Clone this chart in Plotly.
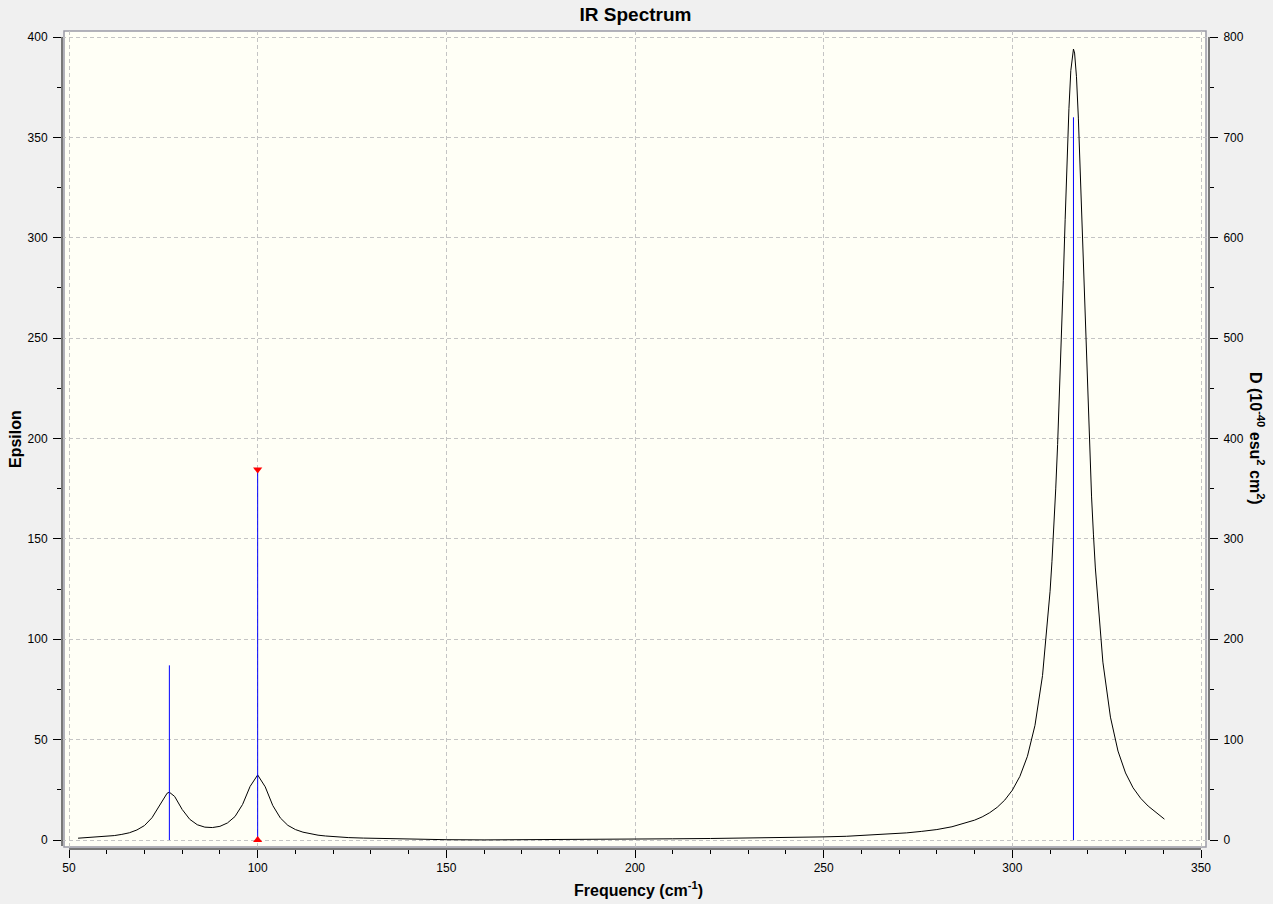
import plotly.graph_objects as go

# ---- data ----
freq = [52.4, 54, 56, 58, 60, 62, 64, 66, 68, 70, 72, 74, 76, 76.6, 78, 80, 82, 84, 86, 88,
        90, 92, 94, 96, 98, 100, 102, 104, 106, 108, 110, 112, 114, 116, 118, 120, 124, 128,
        132, 136, 140, 145, 150, 160, 170, 180, 190, 200, 210, 220, 230, 240, 250, 256, 260,
        264, 268, 272, 276, 280, 284, 288, 290, 292, 294, 296, 298, 300, 302, 304, 306, 308,
        310, 310.5, 311, 311.5, 312, 312.5, 313, 313.5, 314, 314.5, 315, 315.5, 316, 316.2,
        316.5, 317, 317.5, 318, 318.5, 319, 319.5, 320, 320.5, 321, 321.5, 322, 324, 326,
        328, 330, 332, 334, 336, 338, 340.3]
epsilon = [0.9, 1.1, 1.3, 1.5, 1.8, 2.2, 2.8, 3.6, 5.0, 7.2, 11.1, 17.3, 23.3, 23.8, 21.7,
           15.2, 10.3, 7.6, 6.4, 6.2, 6.8, 8.5, 11.7, 17.7, 26.7, 32.4, 26.5, 17.2, 11.0, 7.3,
           5.2, 3.9, 3.0, 2.4, 2.0, 1.65, 1.2, 0.95, 0.75, 0.6, 0.45, 0.3, 0.15, 0.05, 0.1,
           0.2, 0.3, 0.45, 0.6, 0.75, 0.9, 1.15, 1.55, 1.85, 2.2, 2.55, 3.0, 3.55, 4.3, 5.2,
           6.6, 8.6, 9.9, 11.5, 13.6, 16.3, 19.9, 24.8, 31.7, 41.7, 57.1, 81.9, 123.9, 138.6,
           155.5, 174.9, 197.0, 221.8, 249.3, 278.8, 309.2, 338.5, 364.3, 383.3, 393.1, 394.0,
           392.0, 380.2, 359.6, 332.8, 303.1, 272.8, 243.6, 216.6, 192.4, 170.9, 152.0, 135.5,
           88.6, 61.2, 44.3, 33.4, 26.0, 20.8, 16.9, 13.8, 10.4]

stick_freq = [76.6, 100.0, 316.2]
stick_D = [174, 369, 720]
selected_index = 1

x_ticks = [50, 100, 150, 200, 250, 300, 350]
eps_ticks = [0, 50, 100, 150, 200, 250, 300, 350, 400]
d_ticks = [0, 100, 200, 300, 400, 500, 600, 700, 800]

# ---- layout geometry ----
W, H = 1273, 904
L, R, T, B = 62, 1209, 31, 849          # plot area (axis lines) in px
xr = [48.145, 352.12]
yr = [-4.483, 402.99]
y2r = [yr[0] * 2, yr[1] * 2]

FONT = "Liberation Sans, Arial, sans-serif"

def px_x(p):
    return (p - L) / (R - L)

def px_y(p):
    return (B - p) / (B - T)

sx, sy = [], []
for f, d in zip(stick_freq, stick_D):
    sx += [f, f, None]
    sy += [0, d, None]

fig = go.Figure()
fig.add_trace(go.Scatter(x=sx, y=sy, mode="lines", yaxis="y2",
                         line=dict(color="#0000FF", width=1), hoverinfo="skip",
                         showlegend=False))
fig.add_trace(go.Scatter(x=freq, y=epsilon, mode="lines",
                         line=dict(color="#000000", width=1), showlegend=False))
fig.add_trace(go.Scatter(x=[stick_freq[selected_index]], y=[stick_D[selected_index]],
                         yaxis="y2", mode="markers",
                         marker=dict(symbol="triangle-down", size=8, color="#FF0000"),
                         showlegend=False))
fig.add_trace(go.Scatter(x=[stick_freq[selected_index]], y=[0],
                         yaxis="y2", mode="markers",
                         marker=dict(symbol="triangle-up", size=8, color="#FF0000"),
                         showlegend=False))

grid = dict(showgrid=True, gridcolor="#C4C4C4", gridwidth=1, griddash="4px,3px")
tickfont = dict(family=FONT, size=12, color="#000000")

fig.update_layout(
    width=W, height=H,
    margin=dict(l=L, r=W - R, t=T, b=H - B, pad=0),
    paper_bgcolor="#F0F0F0",
    plot_bgcolor="#F0F0F0",
    title=dict(text="<b>IR Spectrum</b>", x=0.5, xref="paper", xanchor="center",
               y=1 - 14 / H, yref="container", yanchor="middle",
               font=dict(family=FONT, size=19, color="#000000")),
    xaxis=dict(range=xr, tickvals=x_ticks, ticks="outside", ticklen=8, tickwidth=1,
               tickcolor="#000000", showline=False, zeroline=False, tickfont=tickfont,
               minor=dict(dtick=10, tick0=0, ticks="outside", ticklen=4, tickcolor="#000000",
                          showgrid=False),
               **grid),
    yaxis=dict(range=yr, tickvals=eps_ticks, ticks="outside", ticklen=8, tickwidth=1,
               tickcolor="#000000", showline=False, zeroline=False, tickfont=tickfont,
               ticklabelstandoff=3,
               minor=dict(dtick=25, tick0=0, ticks="outside", ticklen=4, tickcolor="#000000",
                          showgrid=False),
               **grid),
    yaxis2=dict(range=y2r, overlaying="y", side="right", tickvals=d_ticks, ticks="outside",
                ticklen=8, tickwidth=1, tickcolor="#000000", showline=False, zeroline=False,
                showgrid=False, tickfont=tickfont, ticklabelstandoff=3,
                minor=dict(dtick=50, tick0=0, ticks="outside", ticklen=4,
                           tickcolor="#000000", showgrid=False)),
    shapes=[
        # ivory plotting frame
        dict(type="rect", xref="paper", yref="paper", layer="below",
             x0=px_x(64), x1=px_x(1206), y0=px_y(847), y1=px_y(31),
             fillcolor="#FFFFF6", line=dict(color="#9A9AA6", width=1.5)),
        # axis lines spanning the tick ranges
        dict(type="line", xref="x", yref="paper", x0=x_ticks[0], x1=x_ticks[-1],
             y0=0, y1=0, line=dict(color="#000000", width=1)),
        dict(type="line", xref="paper", yref="y", x0=0, x1=0,
             y0=-3, y1=eps_ticks[-1], line=dict(color="#000000", width=1)),
        dict(type="line", xref="paper", yref="y2", x0=1, x1=1,
             y0=d_ticks[0], y1=d_ticks[-1], line=dict(color="#000000", width=1)),
    ],
    annotations=[
        dict(text="<b>Frequency (cm<sup>-1</sup>)</b>", xref="paper", yref="paper",
             x=px_x(638), y=px_y(889), xanchor="center", yanchor="middle", showarrow=False,
             font=dict(family=FONT, size=16, color="#000000")),
        dict(text="<b>Epsilon</b>", xref="paper", yref="paper", textangle=-90,
             x=px_x(15), y=px_y(439), xanchor="center", yanchor="middle", showarrow=False,
             font=dict(family=FONT, size=16, color="#000000")),
        dict(text="<b>D (10<sup>-40</sup> esu<sup>2</sup> cm<sup>2</sup>)</b>", xref="paper",
             yref="paper", textangle=90, x=px_x(1257), y=px_y(438), xanchor="center",
             yanchor="middle", showarrow=False,
             font=dict(family=FONT, size=16, color="#000000")),
    ],
)

fig.write_html("out.html", config={"displayModeBar": False},
               post_script="document.body.style.margin='0px';document.body.style.background='#F0F0F0';")
